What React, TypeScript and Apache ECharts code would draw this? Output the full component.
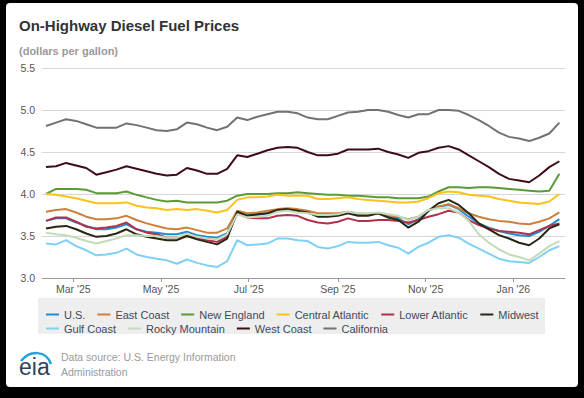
import React, { useEffect, useRef } from "react";
import * as echarts from "echarts";

const DATES = [
  "2025-02-10", "2025-02-17", "2025-02-24", "2025-03-03", "2025-03-10", "2025-03-17", "2025-03-24", "2025-03-31",
  "2025-04-07", "2025-04-14", "2025-04-21", "2025-04-28", "2025-05-05", "2025-05-12", "2025-05-19", "2025-05-26",
  "2025-06-02", "2025-06-09", "2025-06-16", "2025-06-23", "2025-06-30", "2025-07-07", "2025-07-14", "2025-07-21",
  "2025-07-28", "2025-08-04", "2025-08-11", "2025-08-18", "2025-08-25", "2025-09-01", "2025-09-08", "2025-09-15",
  "2025-09-22", "2025-09-29", "2025-10-06", "2025-10-13", "2025-10-20", "2025-10-27", "2025-11-03", "2025-11-10",
  "2025-11-17", "2025-11-24", "2025-12-01", "2025-12-08", "2025-12-15", "2025-12-22", "2025-12-29", "2026-01-05",
  "2026-01-12", "2026-01-19", "2026-01-26", "2026-02-02",
];

const US = [3.68, 3.71, 3.71, 3.66, 3.62, 3.58, 3.58, 3.60, 3.64, 3.58, 3.55, 3.54, 3.52, 3.52, 3.55, 3.51, 3.49, 3.48, 3.53, 3.78, 3.75, 3.75, 3.77, 3.80, 3.81, 3.79, 3.78, 3.74, 3.74, 3.75, 3.78, 3.75, 3.75, 3.77, 3.73, 3.71, 3.64, 3.70, 3.80, 3.85, 3.87, 3.82, 3.73, 3.65, 3.60, 3.56, 3.53, 3.51, 3.50, 3.55, 3.62, 3.70];
const EAST_COAST = [3.79, 3.81, 3.82, 3.78, 3.73, 3.70, 3.70, 3.71, 3.74, 3.69, 3.65, 3.62, 3.59, 3.58, 3.60, 3.57, 3.54, 3.54, 3.59, 3.80, 3.77, 3.78, 3.80, 3.82, 3.83, 3.82, 3.80, 3.77, 3.77, 3.77, 3.79, 3.77, 3.76, 3.77, 3.75, 3.73, 3.70, 3.73, 3.81, 3.85, 3.88, 3.83, 3.77, 3.73, 3.70, 3.68, 3.67, 3.65, 3.64, 3.67, 3.71, 3.78];
const NEW_ENGLAND = [4.00, 4.06, 4.06, 4.06, 4.05, 4.01, 4.01, 4.01, 4.03, 3.99, 3.96, 3.93, 3.91, 3.92, 3.90, 3.90, 3.90, 3.90, 3.92, 3.98, 4.00, 4.00, 4.00, 4.01, 4.01, 4.02, 4.01, 4.00, 3.99, 3.99, 3.98, 3.98, 3.97, 3.96, 3.96, 3.95, 3.95, 3.95, 3.97, 4.03, 4.08, 4.08, 4.07, 4.08, 4.08, 4.07, 4.06, 4.05, 4.04, 4.03, 4.04, 4.24];
const CENTRAL_ATLANTIC = [4.00, 3.99, 3.97, 3.95, 3.92, 3.89, 3.89, 3.89, 3.90, 3.86, 3.84, 3.83, 3.81, 3.82, 3.81, 3.82, 3.80, 3.78, 3.81, 3.93, 3.96, 3.96, 3.97, 3.99, 3.98, 3.98, 3.98, 3.94, 3.94, 3.95, 3.96, 3.94, 3.93, 3.92, 3.91, 3.90, 3.90, 3.91, 3.95, 4.01, 4.03, 4.02, 3.99, 3.98, 3.97, 3.94, 3.92, 3.90, 3.89, 3.88, 3.91, 4.00];
const LOWER_ATLANTIC = [3.68, 3.72, 3.72, 3.67, 3.61, 3.59, 3.60, 3.62, 3.66, 3.58, 3.54, 3.52, 3.48, 3.48, 3.50, 3.48, 3.45, 3.43, 3.49, 3.77, 3.72, 3.71, 3.71, 3.74, 3.75, 3.74, 3.69, 3.66, 3.65, 3.67, 3.71, 3.68, 3.68, 3.69, 3.69, 3.68, 3.66, 3.69, 3.73, 3.76, 3.80, 3.78, 3.69, 3.63, 3.59, 3.56, 3.55, 3.54, 3.52, 3.57, 3.62, 3.65];
const MIDWEST = [3.59, 3.61, 3.62, 3.58, 3.53, 3.49, 3.50, 3.53, 3.58, 3.52, 3.49, 3.47, 3.45, 3.45, 3.50, 3.46, 3.43, 3.40, 3.47, 3.79, 3.74, 3.76, 3.77, 3.81, 3.82, 3.80, 3.78, 3.73, 3.73, 3.74, 3.77, 3.74, 3.74, 3.77, 3.72, 3.69, 3.60, 3.67, 3.80, 3.89, 3.93, 3.87, 3.77, 3.65, 3.58, 3.51, 3.47, 3.42, 3.39, 3.47, 3.59, 3.64];
const GULF_COAST = [3.41, 3.40, 3.45, 3.38, 3.33, 3.27, 3.28, 3.30, 3.35, 3.28, 3.25, 3.23, 3.21, 3.17, 3.22, 3.18, 3.15, 3.13, 3.20, 3.45, 3.39, 3.40, 3.41, 3.47, 3.47, 3.45, 3.44, 3.37, 3.35, 3.38, 3.43, 3.42, 3.42, 3.43, 3.39, 3.36, 3.29, 3.37, 3.42, 3.49, 3.51, 3.48, 3.41, 3.35, 3.29, 3.23, 3.20, 3.19, 3.18, 3.25, 3.33, 3.38];
const ROCKY_MOUNTAIN = [3.54, 3.52, 3.51, 3.48, 3.44, 3.41, 3.44, 3.47, 3.51, 3.51, 3.50, 3.50, 3.48, 3.48, 3.53, 3.49, 3.47, 3.46, 3.52, 3.76, 3.72, 3.73, 3.74, 3.79, 3.80, 3.78, 3.77, 3.75, 3.75, 3.76, 3.79, 3.77, 3.77, 3.78, 3.76, 3.74, 3.69, 3.73, 3.81, 3.83, 3.83, 3.78, 3.68, 3.52, 3.42, 3.34, 3.28, 3.25, 3.21, 3.29, 3.38, 3.44];
const WEST_COAST = [4.32, 4.33, 4.37, 4.34, 4.31, 4.23, 4.26, 4.29, 4.33, 4.30, 4.27, 4.24, 4.22, 4.23, 4.31, 4.28, 4.24, 4.24, 4.30, 4.46, 4.44, 4.48, 4.52, 4.55, 4.56, 4.55, 4.50, 4.46, 4.46, 4.48, 4.53, 4.53, 4.53, 4.54, 4.50, 4.47, 4.43, 4.49, 4.51, 4.55, 4.57, 4.53, 4.46, 4.39, 4.32, 4.24, 4.18, 4.16, 4.14, 4.22, 4.32, 4.39];
const CALIFORNIA = [4.81, 4.85, 4.89, 4.87, 4.83, 4.79, 4.79, 4.79, 4.84, 4.82, 4.79, 4.76, 4.75, 4.77, 4.85, 4.83, 4.79, 4.76, 4.80, 4.91, 4.88, 4.92, 4.95, 4.98, 4.98, 4.96, 4.91, 4.89, 4.89, 4.93, 4.97, 4.98, 5.00, 5.00, 4.98, 4.94, 4.91, 4.95, 4.95, 5.00, 5.00, 4.99, 4.94, 4.88, 4.81, 4.73, 4.68, 4.66, 4.63, 4.67, 4.72, 4.85];

const SERIES_NAMES = ["U.S.", "East Coast", "New England", "Central Atlantic", "Lower Atlantic", "Midwest", "Gulf Coast", "Rocky Mountain", "West Coast", "California"];
const SERIES_VALUES = [US, EAST_COAST, NEW_ENGLAND, CENTRAL_ATLANTIC, LOWER_ATLANTIC, MIDWEST, GULF_COAST, ROCKY_MOUNTAIN, WEST_COAST, CALIFORNIA];
const SERIES_COLORS = ["#1a8fd6", "#cf7f3a", "#5b9a38", "#fbc21a", "#b3304a", "#2b2612", "#7fd0f4", "#c4dbb9", "#3e0c17", "#727272"];

const X_TICK_DATES = ["2025-03-01", "2025-05-01", "2025-07-01", "2025-09-01", "2025-11-01", "2026-01-01"];
const Y_TICKS = [3.0, 3.5, 4.0, 4.5, 5.0, 5.5];
const MONTHS = ["Jan", "Feb", "Mar", "Apr", "May", "Jun", "Jul", "Aug", "Sep", "Oct", "Nov", "Dec"];

const TITLE = "On-Highway Diesel Fuel Prices";
const SUBTITLE = "(dollars per gallon)";
const SOURCE_LINES = ["Data source: U.S. Energy Information", "Administration"];

const toTs = (s: string) => {
  const [y, m, d] = s.split("-").map(Number);
  return Date.UTC(y, m - 1, d);
};

const FONT = "'Liberation Sans', Arial, Helvetica, sans-serif";

export default function App() {
  const ref = useRef<HTMLDivElement>(null);

  useEffect(() => {
    if (!ref.current) return;
    const chart = echarts.init(ref.current, undefined, { renderer: "svg" });
    const times = DATES.map(toTs);
    const tickTs = X_TICK_DATES.map(toTs);

    const series = SERIES_NAMES.map((name, k) => ({
      name,
      type: "line",
      data: times.map((t, i) => [t, SERIES_VALUES[k][i]]),
      symbol: "none",
      showSymbol: false,
      lineStyle: { width: 2, color: SERIES_COLORS[k] },
      itemStyle: { color: SERIES_COLORS[k] },
      emphasis: { disabled: true },
    }));

    const legendBase = {
      left: 46,
      icon: "rect",
      itemWidth: 13,
      itemHeight: 2,
      itemGap: 12,
      padding: 0,
      selectedMode: false,
      textStyle: { fontSize: 11, color: "#3f4a5a", fontFamily: FONT },
    };

    chart.setOption({
      animation: false,
      textStyle: { fontFamily: FONT },
      grid: { left: 42, right: 19, top: 68, height: 210, containLabel: false },
      xAxis: {
        type: "value",
        min: Date.UTC(2025, 1, 7, 6),
        max: Date.UTC(2026, 1, 5, 22),
        axisLine: { show: true, lineStyle: { color: "#9a9a9a", width: 1 } },
        axisTick: {
          show: true,
          length: 4,
          lineStyle: { color: "#9a9a9a" },
          customValues: tickTs,
        },
        axisLabel: {
          color: "#555",
          fontSize: 10.5,
          margin: 5,
          fontFamily: FONT,
          customValues: tickTs,
          formatter: (v: number) => {
            const d = new Date(v);
            return MONTHS[d.getUTCMonth()] + " '" + String(d.getUTCFullYear()).slice(2);
          },
        },
        splitLine: { show: false },
      },
      yAxis: {
        type: "value",
        min: Y_TICKS[0],
        max: Y_TICKS[Y_TICKS.length - 1],
        interval: 0.5,
        axisLine: { show: false },
        axisTick: { show: false },
        axisLabel: {
          color: "#555",
          fontSize: 10.5,
          margin: 7,
          fontFamily: FONT,
          formatter: (v: number) => v.toFixed(1),
        },
        splitLine: { lineStyle: { color: "#d6d6d6", width: 1 } },
      },
      legend: [
        { ...legendBase, top: 309, data: SERIES_NAMES.slice(0, 6) },
        { ...legendBase, top: 323, data: SERIES_NAMES.slice(6) },
      ],
      graphic: [
        {
          type: "rect",
          z: 0,
          shape: { x: 38, y: 298, width: 507, height: 36 },
          style: { fill: "#eeeeee" },
          silent: true,
        },
        {
          type: "text",
          x: 19,
          y: 25.5,
          style: { text: TITLE, font: `bold 15px ${FONT}`, fill: "#333333", verticalAlign: "middle" },
        },
        {
          type: "text",
          x: 19,
          y: 51,
          style: { text: SUBTITLE, font: `bold 11px ${FONT}`, fill: "#9a9a9a", verticalAlign: "middle" },
        },
        {
          type: "text",
          x: 61,
          y: 357,
          style: { text: SOURCE_LINES[0], font: `10.5px ${FONT}`, fill: "#9a9a9a", verticalAlign: "middle" },
        },
        {
          type: "text",
          x: 61,
          y: 372,
          style: { text: SOURCE_LINES[1], font: `10.5px ${FONT}`, fill: "#9a9a9a", verticalAlign: "middle" },
        },
        {
          type: "text",
          x: 19,
          y: 367,
          style: { text: "eia", font: `23px ${FONT}`, fill: "#2f4257", verticalAlign: "middle" },
        },
        {
          type: "bezierCurve",
          shape: { x1: 21, y1: 361, x2: 51, y2: 364, cpx1: 30, cpy1: 350, cpx2: 46, cpy2: 350 },
          style: { stroke: "#1ea3dc", lineWidth: 2.5, fill: "none" },
        },
      ],
      series,
    });

    return () => chart.dispose();
  }, []);

  return (
    <div style={{ position: "fixed", left: 0, top: 0, width: 584, height: 398, background: "#000", overflow: "hidden" }}>
      <div
        style={{
          position: "absolute",
          left: 6,
          top: 3,
          width: 572,
          height: 384,
          background: "#fff",
          borderRadius: 4,
        }}
      />
      <div ref={ref} style={{ position: "absolute", left: 0, top: 0, width: 584, height: 398 }} />
    </div>
  );
}
